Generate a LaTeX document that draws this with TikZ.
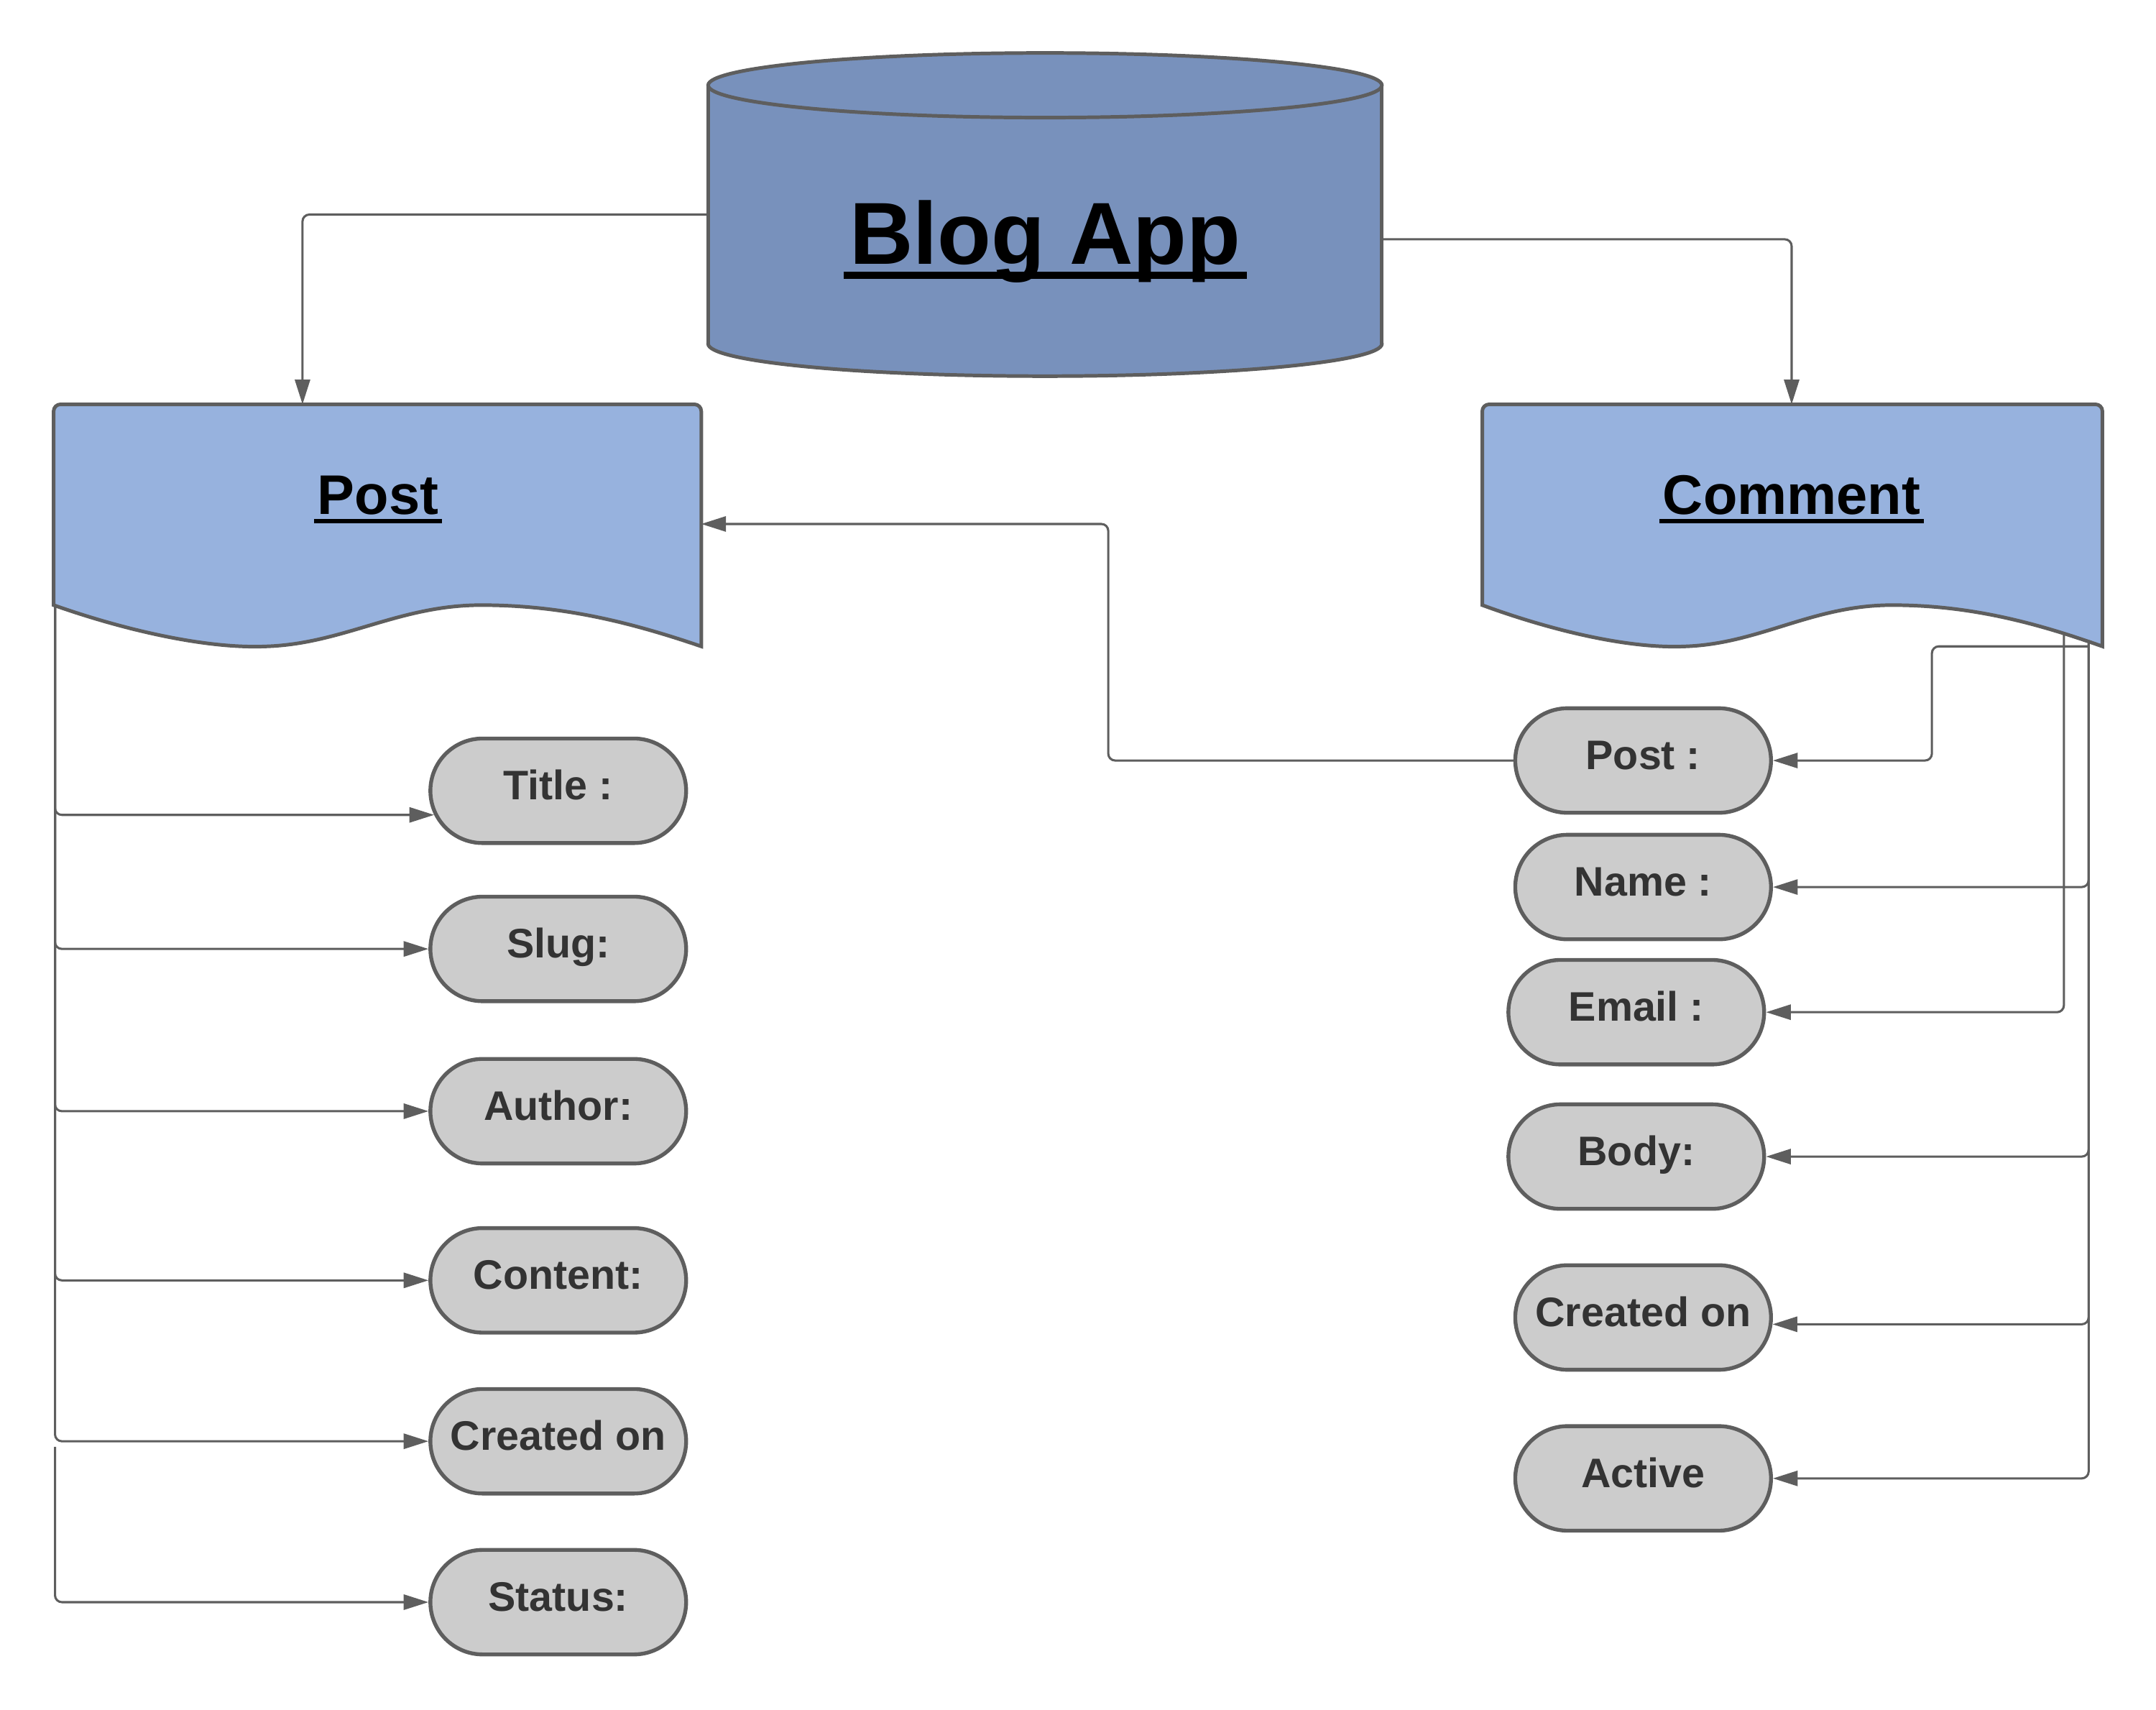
\documentclass[tikz,border=0pt]{standalone}
\usepackage{fontspec}
\setmainfont{Liberation Sans}
\usetikzlibrary{shapes.misc,arrows.meta}
\definecolor{cyl}{HTML}{7891BC}
\definecolor{docb}{HTML}{97B2DE}
\definecolor{pillf}{HTML}{CCCCCC}
\definecolor{edge}{HTML}{5E5E5E}
\definecolor{txt}{HTML}{333333}
\begin{document}
\begin{tikzpicture}[x=0.5pt,y=-0.5pt,
  pill/.style={rounded rectangle, draw=edge, fill=pillf, line width=1.4pt,
    minimum width=93pt, minimum height=38pt, inner sep=0pt, text=txt,
    font=\fontsize{15}{18}\selectfont\bfseries, text height=11pt, text depth=4.5pt},
  conn/.style={draw=edge, line width=0.8pt, rounded corners=2.5pt},
  arr/.style={-{Triangle[length=9pt,width=5.5pt]}},
  shapeline/.style={draw=edge, line width=1.3pt},
  titletext/.style={inner sep=0pt, anchor=base, font=\fontsize{20.3}{24}\selectfont\bfseries},
]
\useasboundingbox (0,0) rectangle (1568,1243);

% ---------- cylinder ----------
\draw[shapeline, fill=cyl] (760,250) ellipse [x radius=245, y radius=23.5];
\fill[cyl] (515,62) rectangle (1005,250);
\draw[shapeline] (515,62) -- (515,250) (1005,62) -- (1005,250);
\draw[shapeline, fill=cyl] (760,62) ellipse [x radius=245, y radius=23.5];
\node[minimum width=245pt, minimum height=94pt, inner sep=0pt] (app) at (760,156) {};
\node[inner sep=0pt, anchor=base, font=\fontsize{32}{38}\selectfont\bfseries] (apptxt) at (760,192) {Blog App};
\draw[line width=2.6pt] ([xshift=-2pt,yshift=-4pt]apptxt.base west) -- ([xshift=2pt,yshift=-4pt]apptxt.base east);

% ---------- Post document ----------
\path[shapeline, fill=docb] (39,440) [rounded corners=2.5pt] -- (39,294) -- (510,294) [sharp corners] -- (510,470)
  .. controls (460,453) and (410,440) .. (350,440)
  .. controls (290,440) and (250,468) .. (194,470)
  .. controls (150,472) and (90,458) .. (39,440) -- cycle;
\node[titletext] (posttxt) at (275,374) {Post};
\draw[line width=1.6pt] ([xshift=-1pt,yshift=-2.4pt]posttxt.base west) -- ([xshift=1pt,yshift=-2.4pt]posttxt.base east);

% ---------- Comment document ----------
\path[shapeline, fill=docb] (1078,440) [rounded corners=2.5pt] -- (1078,294) -- (1529,294) [sharp corners] -- (1529,470)
  .. controls (1481,453) and (1433,440) .. (1376,440)
  .. controls (1318,440) and (1280,468) .. (1226,470)
  .. controls (1184,472) and (1127,458) .. (1078,440) -- cycle;
\node[titletext] (cmttxt) at (1303,374) {Comment};
\draw[line width=1.6pt] ([xshift=-1pt,yshift=-2.4pt]cmttxt.base west) -- ([xshift=1pt,yshift=-2.4pt]cmttxt.base east);

% ---------- Post attributes ----------
\node[pill] (ptitle)   at (406,575)  {Title :};
\node[pill] (pslug)    at (406,690)  {Slug:};
\node[pill] (pauthor)  at (406,808)  {Author:};
\node[pill] (pcontent) at (406,931)  {Content:};
\node[pill] (pcreated) at (406,1048) {Created on};
\node[pill] (pstatus)  at (406,1165) {Status:};

% ---------- Comment attributes ----------
\node[pill] (cpost)    at (1195,553)  {Post :};
\node[pill] (cname)    at (1195,645)  {Name :};
\node[pill] (cemail)   at (1190,736)  {Email :};
\node[pill] (cbody)    at (1190,841)  {Body:};
\node[pill] (ccreated) at (1195,958)  {Created on};
\node[pill] (cactive)  at (1195,1075) {Active};

% ---------- connector end points ----------
\coordinate (postTop) at (220,294);
\coordinate (cmtTop)  at (1303,294);
\coordinate (postR)   at (510,381);
\coordinate (pBL)     at (40,440);
\coordinate (pBL2)    at (40,1052);
\coordinate (cA)      at (1519,470);
\coordinate (cB)      at (1519,468);
\coordinate (cC)      at (1501,461);

% ---------- connectors ----------
\draw[conn,arr] (app.west) -| (postTop);
\draw[conn,arr] ([yshift=-9pt]app.east) -| (cmtTop);

\draw[conn,arr] (pBL) |- (ptitle.191);
\draw[conn,arr] (pBL) |- (pslug.west);
\draw[conn,arr] (pBL) |- (pauthor.west);
\draw[conn,arr] (pBL) |- (pcontent.west);
\draw[conn,arr] (pBL) |- (pcreated.west);
\draw[conn,arr] (pBL2) |- (pstatus.west);

\draw[conn,arr] (cA) -| (1405,553) -- (cpost.east);
\draw[conn,arr] (cB) |- (cname.east);
\draw[conn,arr] (cC) |- (cemail.east);
\draw[conn,arr] (cB) |- (cbody.east);
\draw[conn,arr] (cB) |- (ccreated.-3);
\draw[conn,arr] (cB) |- (cactive.east);

\draw[conn,arr] (cpost.west) -| (806,381) -- (postR);
\end{tikzpicture}
\end{document}
